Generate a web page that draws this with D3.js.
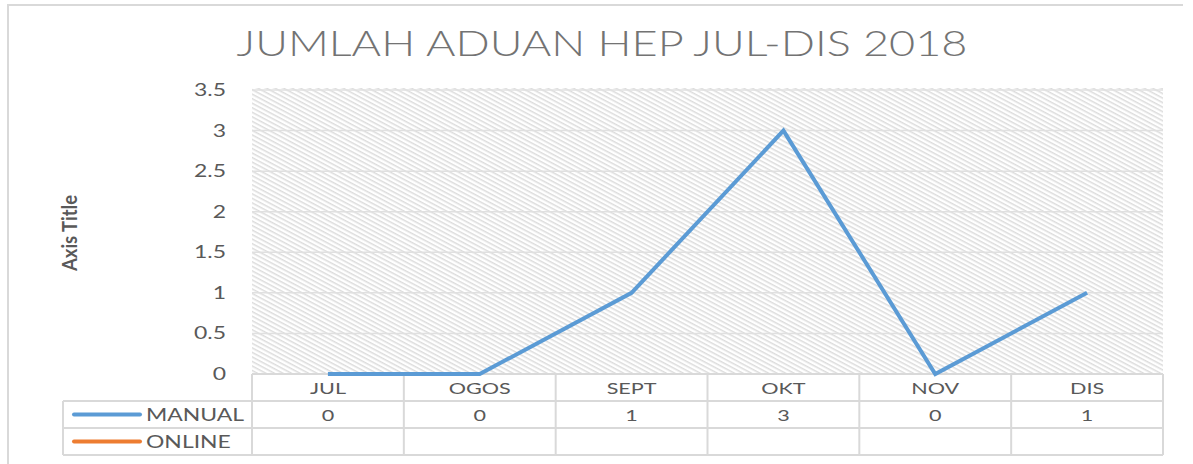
<!DOCTYPE html>
<html>
<head>
  <meta charset="utf-8">
  <title>Jumlah Aduan HEP</title>
  <script src="https://cdn.jsdelivr.net/npm/d3@7"></script>
  <style>
    body { margin: 0; background: #fff; }
    svg { display: block; font-family: Lato, "Open Sans", sans-serif; }
    .tick text { fill: #595959; font-size: 17px; }
  </style>
</head>
<body>
  <script>
    // Data
    const months = ["JUL", "OGOS", "SEPT", "OKT", "NOV", "DIS"];
    const manual = [0, 0, 1, 3, 0, 1];
    const online = [null, null, null, null, null, null];
    const yTicks = [0, 0.5, 1, 1.5, 2, 2.5, 3, 3.5];
    const seriesNames = ["MANUAL", "ONLINE"];
    const seriesColors = ["#5b9bd5", "#ed7d31"];

    const w = 1193, h = 464;
    const plotLeft = 252, plotRight = 1163, plotTop = 90, plotBottom = 374;
    const rowH = 27;
    const stretch = 1.35; // the original picture is wider than tall

    const svg = d3.select("body").append("svg")
      .attr("width", w)
      .attr("height", h);

    // hatch pattern
    const defs = svg.append("defs");
    defs.append("pattern")
      .attr("id", "hatch")
      .attr("patternUnits", "userSpaceOnUse")
      .attr("width", 4)
      .attr("height", 4)
      .attr("patternTransform", "rotate(28)")
      .append("rect")
      .attr("width", 4).attr("height", 1.5)
      .attr("fill", "#dcdcdc");

    // outer border
    svg.append("path")
      .attr("d", `M8,${h} L8,5 L1183,5`)
      .attr("fill", "none")
      .attr("stroke", "#d9d9d9")
      .attr("stroke-width", 2);

    // title
    svg.append("text")
      .attr("x", 602)
      .attr("y", 56)
      .attr("text-anchor", "middle")
      .attr("fill", "#737373")
      .attr("font-size", 35)
      .attr("font-weight", 300)
      .attr("textLength", 731)
      .attr("lengthAdjust", "spacingAndGlyphs")
      .text("JUMLAH ADUAN HEP JUL-DIS 2018");

    const xScale = d3.scaleBand().domain(months).range([plotLeft, plotRight]);
    const yScale = d3.scaleLinear().domain([0, 3.5]).range([plotBottom, plotTop]);

    // plot area
    svg.append("rect")
      .attr("x", plotLeft).attr("y", yScale(3.5) - 2)
      .attr("width", plotRight - plotLeft).attr("height", plotBottom - yScale(3.5) + 2)
      .attr("fill", "url(#hatch)");

    // gridlines
    svg.append("g")
      .selectAll("line")
      .data(yTicks.slice(1))
      .enter()
      .append("line")
      .attr("x1", plotLeft).attr("x2", plotRight)
      .attr("y1", d => yScale(d)).attr("y2", d => yScale(d))
      .attr("stroke", "#e0e0e0")
      .attr("stroke-width", 1.5);

    // y axis
    const yAxis = d3.axisLeft(yScale).tickValues(yTicks).tickSize(0).tickPadding(0)
      .tickFormat(d => d);
    svg.append("g")
      .attr("transform", "translate(226,0)")
      .call(yAxis)
      .call(g => g.select(".domain").remove())
      .selectAll("text")
      .attr("font-family", "Lato, 'Open Sans', sans-serif")
      .attr("transform", `scale(${stretch},1)`);

    // axis title
    svg.append("text")
      .attr("transform", "translate(77,233) rotate(-90)")
      .attr("text-anchor", "middle")
      .attr("fill", "#595959")
      .attr("font-size", 21)
      .attr("font-weight", "bold")
      .attr("textLength", 76)
      .attr("lengthAdjust", "spacingAndGlyphs")
      .text("Axis Title");

    // table
    const table = svg.append("g").attr("stroke", "#d9d9d9").attr("stroke-width", 2).attr("fill", "none");
    const tableLeft = 63;
    const tableBottom = plotBottom + rowH * 3;
    table.append("line").attr("x1", plotLeft).attr("x2", plotRight).attr("y1", plotBottom).attr("y2", plotBottom);
    [1, 2, 3].forEach(function (i) {
      table.append("line")
        .attr("x1", tableLeft).attr("x2", plotRight)
        .attr("y1", plotBottom + rowH * i).attr("y2", plotBottom + rowH * i);
    });
    table.append("line").attr("x1", tableLeft).attr("x2", tableLeft)
      .attr("y1", plotBottom + rowH).attr("y2", tableBottom);
    months.forEach(function (m) {
      table.append("line")
        .attr("x1", xScale(m)).attr("x2", xScale(m))
        .attr("y1", plotBottom).attr("y2", tableBottom);
    });
    table.append("line").attr("x1", plotRight).attr("x2", plotRight)
      .attr("y1", plotBottom).attr("y2", tableBottom);

    // month labels
    svg.append("g")
      .selectAll("text")
      .data(months)
      .enter()
      .append("text")
      .attr("transform", d => `translate(${xScale(d) + xScale.bandwidth() / 2},${plotBottom + 20}) scale(${stretch},1)`)
      .attr("text-anchor", "middle")
      .attr("fill", "#595959")
      .attr("font-size", 16)
      .text(d => d);

    // row values
    [manual, online].forEach(function (vals, r) {
      svg.append("g")
        .selectAll("text")
        .data(vals.map((v, i) => ({ m: months[i], v: v })).filter(d => d.v !== null))
        .enter()
        .append("text")
        .attr("transform", d => `translate(${xScale(d.m) + xScale.bandwidth() / 2},${plotBottom + rowH * (r + 1) + 20}) scale(${stretch},1)`)
        .attr("text-anchor", "middle")
        .attr("fill", "#595959")
        .attr("font-size", 16)
        .text(d => d.v);
    });

    // legend keys in the table
    seriesNames.forEach(function (name, r) {
      const cy = plotBottom + rowH * (r + 1) + rowH / 2;
      svg.append("line")
        .attr("x1", 74).attr("x2", 140)
        .attr("y1", cy).attr("y2", cy)
        .attr("stroke", seriesColors[r])
        .attr("stroke-width", 4)
        .attr("stroke-linecap", "round");
      svg.append("text")
        .attr("transform", `translate(146,${cy + 6}) scale(${stretch},1)`)
        .attr("fill", "#595959")
        .attr("font-size", 17)
        .text(name);
    });

    // lines
    const line = d3.line()
      .defined(d => d.v !== null)
      .x(d => xScale(d.m) + xScale.bandwidth() / 2)
      .y(d => yScale(d.v));

    [manual, online].forEach(function (vals, r) {
      svg.append("path")
        .datum(vals.map((v, i) => ({ m: months[i], v: v })))
        .attr("fill", "none")
        .attr("stroke", seriesColors[r])
        .attr("stroke-width", 4)
        .attr("stroke-linejoin", "miter")
        .attr("d", line);
    });
  </script>
</body>
</html>
